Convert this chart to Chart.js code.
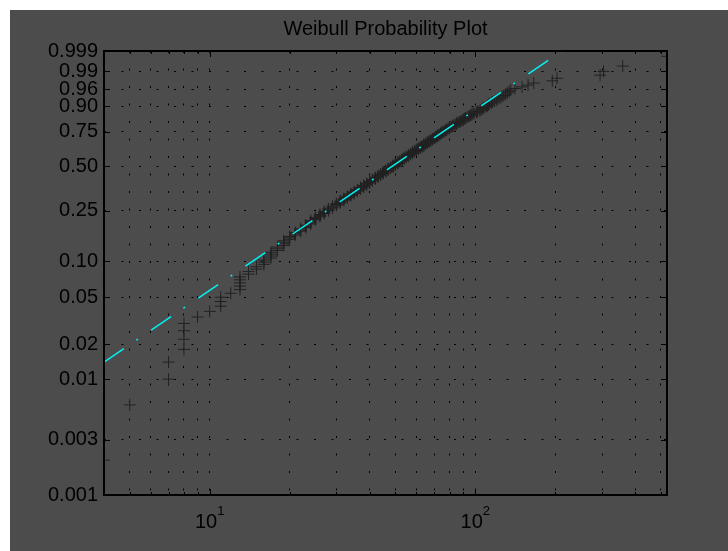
<!DOCTYPE html>
<html>
<head>
<meta charset="utf-8">
<script src="https://cdn.jsdelivr.net/npm/chart.js@4"></script>
<style>
  body { margin: 0; background: #fff; }
  #wrap { position: absolute; left: 10px; top: 10px; width: 718px; height: 541px; background: #4c4c4c; }
</style>
</head>
<body>
<div id="wrap"><canvas id="chart" width="718" height="541"></canvas></div>
<script>
// Sorted sample (integer values)
const samples = [
  4, 5, 7, 7, 8, 8, 8, 8, 9, 10,
  11, 11, 11, 12, 13, 13, 13, 13, 13, 14,
  14, 15, 15, 16, 16, 16, 17, 17, 17, 17,
  18, 18, 18, 19, 19, 19, 19, 20, 20, 20,
  21, 21, 21, 22, 22, 22, 23, 23, 23, 24,
  24, 24, 24, 25, 25, 25, 26, 26, 26, 27,
  27, 27, 28, 28, 28, 29, 29, 29, 30, 30,
  30, 31, 31, 31, 32, 32, 32, 33, 33, 33,
  34, 34, 34, 35, 35, 35, 36, 36, 36, 37,
  37, 37, 38, 38, 38, 39, 39, 39, 40, 40,
  40, 41, 41, 41, 42, 42, 42, 43, 43, 43,
  44, 44, 44, 45, 45, 45, 46, 46, 46, 47,
  47, 47, 48, 48, 49, 49, 49, 50, 50, 50,
  51, 51, 51, 52, 52, 53, 53, 53, 54, 54,
  54, 55, 55, 56, 56, 56, 57, 57, 58, 58,
  58, 59, 59, 60, 60, 60, 61, 61, 62, 62,
  63, 63, 64, 64, 64, 65, 65, 66, 66, 67,
  67, 68, 68, 69, 69, 70, 70, 71, 71, 72,
  72, 73, 73, 74, 74, 75, 75, 76, 77, 77,
  78, 78, 79, 80, 80, 81, 82, 82, 83, 84,
  85, 85, 86, 87, 88, 89, 90, 90, 91, 92,
  93, 94, 95, 96, 97, 98, 99, 101, 102, 104,
  105, 106, 107, 108, 110, 111, 112, 113, 115, 116,
  118, 120, 122, 124, 126, 128, 130, 132, 134, 136,
  141, 150, 158, 166, 195, 203, 295, 304, 359, 527
];

// Probability axis ticks
const probTicks = [0.001, 0.003, 0.01, 0.02, 0.05, 0.10, 0.25, 0.50, 0.75, 0.90, 0.96, 0.99, 0.999];
const probLabels = ["0.001", "0.003", "0.01", "0.02", "0.05", "0.10", "0.25", "0.50", "0.75", "0.90", "0.96", "0.99", "0.999"];

// Log x axis: grid positions, labelled decades, range
const xGrid = [5, 6, 7, 8, 9, 10, 20, 30, 40, 50, 60, 70, 80, 90, 100, 200, 300, 400, 500];
const xDecades = [10, 100];
const xRange = [4, 527];

// Reference line end points
const fitX = [4, 212];
const fitP = [0.014, 0.999];

const FONT = "'Liberation Sans', Arial, Helvetica, sans-serif";

// Weibull probability scale
function wbl(p) {
  return Math.log(-Math.log(1 - p));
}

// Box, inward ticks and 10^n labels like the original
const axesBox = {
  id: "axesBox",
  afterDraw(chart) {
    const { ctx, chartArea: a, scales } = chart;
    ctx.save();
    ctx.strokeStyle = "#000";
    ctx.lineWidth = 2;
    ctx.strokeRect(a.left, a.top, a.right - a.left, a.bottom - a.top);

    ctx.lineWidth = 1;
    ctx.beginPath();
    xGrid.forEach((v) => {
      const x = Math.round(scales.x.getPixelForValue(v)) + 0.5;
      const len = xDecades.includes(v) ? 6 : 3;
      ctx.moveTo(x, a.bottom);
      ctx.lineTo(x, a.bottom - len);
      ctx.moveTo(x, a.top);
      ctx.lineTo(x, a.top + len);
    });
    probTicks.forEach((p) => {
      const y = Math.round(scales.y.getPixelForValue(wbl(p))) + 0.5;
      ctx.moveTo(a.left, y);
      ctx.lineTo(a.left + 6, y);
      ctx.moveTo(a.right, y);
      ctx.lineTo(a.right - 6, y);
    });
    ctx.stroke();

    ctx.fillStyle = "#000";
    ctx.textBaseline = "alphabetic";
    xDecades.forEach((v) => {
      const base = "10";
      const exp = String(Math.round(Math.log10(v)));
      ctx.font = "20px " + FONT;
      const wb = ctx.measureText(base).width;
      ctx.font = "13px " + FONT;
      const we = ctx.measureText(exp).width;
      const x0 = scales.x.getPixelForValue(v) - (wb + we) / 2;
      ctx.font = "20px " + FONT;
      ctx.fillText(base, x0, a.bottom + 33);
      ctx.font = "13px " + FONT;
      ctx.fillText(exp, x0 + wb, a.bottom + 20);
    });
    ctx.restore();
  },
};

const gridOpts = { color: "#000", lineWidth: 1, drawTicks: false };
const borderOpts = { display: false, dash: [2, 15.5] };

new Chart(document.getElementById("chart"), {
  type: "scatter",
  data: {
    datasets: [
      {
        label: "fit",
        data: fitX.map((x, i) => ({ x, y: wbl(fitP[i]) })),
        showLine: true,
        borderColor: "#00f2f2",
        borderWidth: 1.5,
        borderDash: [24, 15, 2, 16],
        pointRadius: 0,
        clip: 0,
        order: 0,
      },
      {
        label: "data",
        data: samples.map((x, i) => ({ x, y: wbl((i + 0.5) / samples.length) })),
        pointStyle: "cross",
        pointRadius: 6,
        borderColor: "#222",
        borderWidth: 1,
        clip: 0,
        order: 1,
      },
    ],
  },
  options: {
    responsive: false,
    animation: false,
    layout: { padding: { left: 0, right: 61, top: 0, bottom: 0 } },
    plugins: {
      legend: { display: false },
      tooltip: { enabled: false },
      title: {
        display: true,
        fullSize: false,
        text: "Weibull Probability Plot",
        color: "#000",
        font: { family: FONT, size: 20, weight: "normal" },
        padding: { top: 7, bottom: 10 },
      },
    },
    scales: {
      x: {
        type: "logarithmic",
        min: xRange[0],
        max: xRange[1],
        afterBuildTicks: (s) => { s.ticks = xGrid.map((v) => ({ value: v })); },
        afterFit: (s) => { s.height = 56; },
        ticks: { autoSkip: false, callback: () => "" },
        grid: gridOpts,
        border: borderOpts,
      },
      y: {
        type: "linear",
        min: wbl(probTicks[0]),
        max: wbl(probTicks[probTicks.length - 1]),
        afterBuildTicks: (s) => { s.ticks = probTicks.map((p) => ({ value: wbl(p) })); },
        afterFit: (s) => { s.width = 94; },
        ticks: {
          autoSkip: false,
          padding: 6,
          color: "#000",
          font: { family: FONT, size: 20 },
          callback: (v, i) => probLabels[i],
        },
        grid: gridOpts,
        border: borderOpts,
      },
    },
  },
  plugins: [axesBox],
});
</script>
</body>
</html>
